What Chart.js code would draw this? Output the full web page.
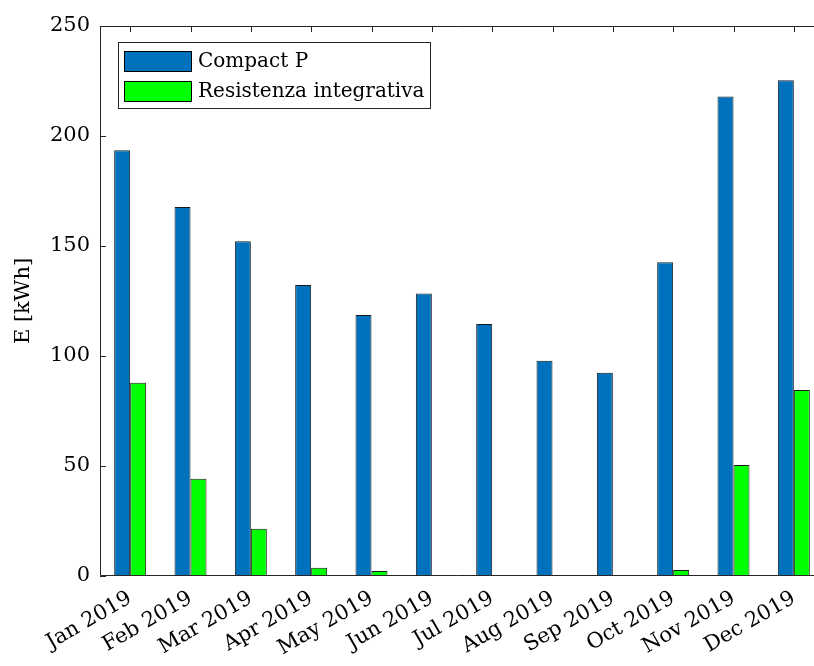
<!DOCTYPE html>
<html>
<head>
<meta charset="utf-8">
<script src="https://cdn.jsdelivr.net/npm/chart.js@4"></script>
<style>
  html, body { margin: 0; padding: 0; background: #fff; overflow: hidden; }
  #wrap { width: 814px; height: 666px; overflow: hidden; }
</style>
</head>
<body>
<div id="wrap"><canvas id="chart" width="860" height="666"></canvas></div>
<script>
const months = ["Jan 2019", "Feb 2019", "Mar 2019", "Apr 2019", "May 2019", "Jun 2019",
  "Jul 2019", "Aug 2019", "Sep 2019", "Oct 2019", "Nov 2019", "Dec 2019"];
const compactP = [193.5, 167.7, 152.2, 132.3, 118.6, 128.4, 114.6, 97.8, 92.4, 142.6, 218.0, 225.3];
const resistenza = [87.8, 44.2, 21.5, 3.8, 2.3, 0, 0, 0, 0, 2.7, 50.5, 84.5];
const yTicks = [0, 50, 100, 150, 200, 250];

const serif = "'DejaVu Serif', 'Liberation Serif', serif";
const axisColor = "#262626";

// frame, inward ticks and the boxed legend, MATLAB style
const matlabAxes = {
  id: "matlabAxes",
  afterDatasetsDraw(chart) {
    const { ctx, chartArea: a, scales } = chart;
    const x = scales.x, y = scales.y;
    const edge = Math.min(a.right, 814);
    ctx.save();
    ctx.strokeStyle = axisColor;
    ctx.lineWidth = 1;
    ctx.beginPath();
    ctx.moveTo(edge, a.top + 0.5);
    ctx.lineTo(a.left + 0.5, a.top + 0.5);
    ctx.lineTo(a.left + 0.5, a.bottom - 0.5);
    ctx.lineTo(edge, a.bottom - 0.5);
    ctx.stroke();

    ctx.beginPath();
    for (let i = 0; i < months.length; i++) {
      const px = Math.round(x.getPixelForValue(i)) + 0.5;
      ctx.moveTo(px, a.top);
      ctx.lineTo(px, a.top + 6);
    }
    for (const v of yTicks) {
      const py = Math.round(y.getPixelForValue(v)) + 0.5;
      ctx.moveTo(a.left, py);
      ctx.lineTo(a.left + 6, py);
    }
    ctx.stroke();

    // legend
    ctx.font = "20px " + serif;
    const sets = chart.data.datasets;
    const textW = Math.max(...sets.map((d) => ctx.measureText(d.label).width));
    const bx = a.left + 18, by = a.top + 16;
    const bw = Math.round(80 + textW + 6), bh = 66;
    ctx.fillStyle = "#fff";
    ctx.fillRect(bx, by, bw, bh);
    ctx.strokeStyle = axisColor;
    ctx.strokeRect(bx + 0.5, by + 0.5, bw, bh);
    sets.forEach((d, i) => {
      const sy = by + 9 + i * 30;
      ctx.fillStyle = d.backgroundColor;
      ctx.fillRect(bx + 6, sy, 67, 20);
      ctx.strokeStyle = "#000";
      ctx.strokeRect(bx + 6.5, sy + 0.5, 67, 20);
      ctx.fillStyle = "#000";
      ctx.textBaseline = "middle";
      ctx.fillText(d.label, bx + 80, sy + 11);
    });
    ctx.restore();
  }
};

new Chart(document.getElementById("chart"), {
  type: "bar",
  data: {
    labels: months,
    datasets: [
      { label: "Compact P", data: compactP, backgroundColor: "#0072BD",
        borderColor: "#1a1a1a", borderWidth: 1, borderSkipped: false },
      { label: "Resistenza integrativa", data: resistenza, backgroundColor: "#00FF00",
        borderColor: "#1a1a1a", borderWidth: 1, borderSkipped: false }
    ]
  },
  options: {
    responsive: false,
    animation: false,
    devicePixelRatio: 1,
    layout: { padding: { top: 26, right: 36, left: 0, bottom: 0 } },
    datasets: { bar: { categoryPercentage: 0.53, barPercentage: 1 } },
    plugins: { legend: { display: false }, tooltip: { enabled: false } },
    scales: {
      x: {
        grid: { display: false },
        border: { display: false },
        ticks: { color: "#000", font: { family: serif, size: 21 }, minRotation: 30, maxRotation: 30, padding: 2 },
        afterFit(scale) { scale.height = 90; }
      },
      y: {
        min: 0, max: 250,
        grid: { display: false, drawTicks: false },
        border: { display: false },
        ticks: { color: "#000", font: { family: serif, size: 21 }, stepSize: 50, padding: 10 },
        title: { display: true, text: "E [kWh]", color: "#000", font: { family: serif, size: 21 }, padding: { top: 11, bottom: 0 } },
        afterFit(scale) { scale.width = 100; }
      }
    }
  },
  plugins: [matlabAxes]
});
</script>
</body>
</html>
